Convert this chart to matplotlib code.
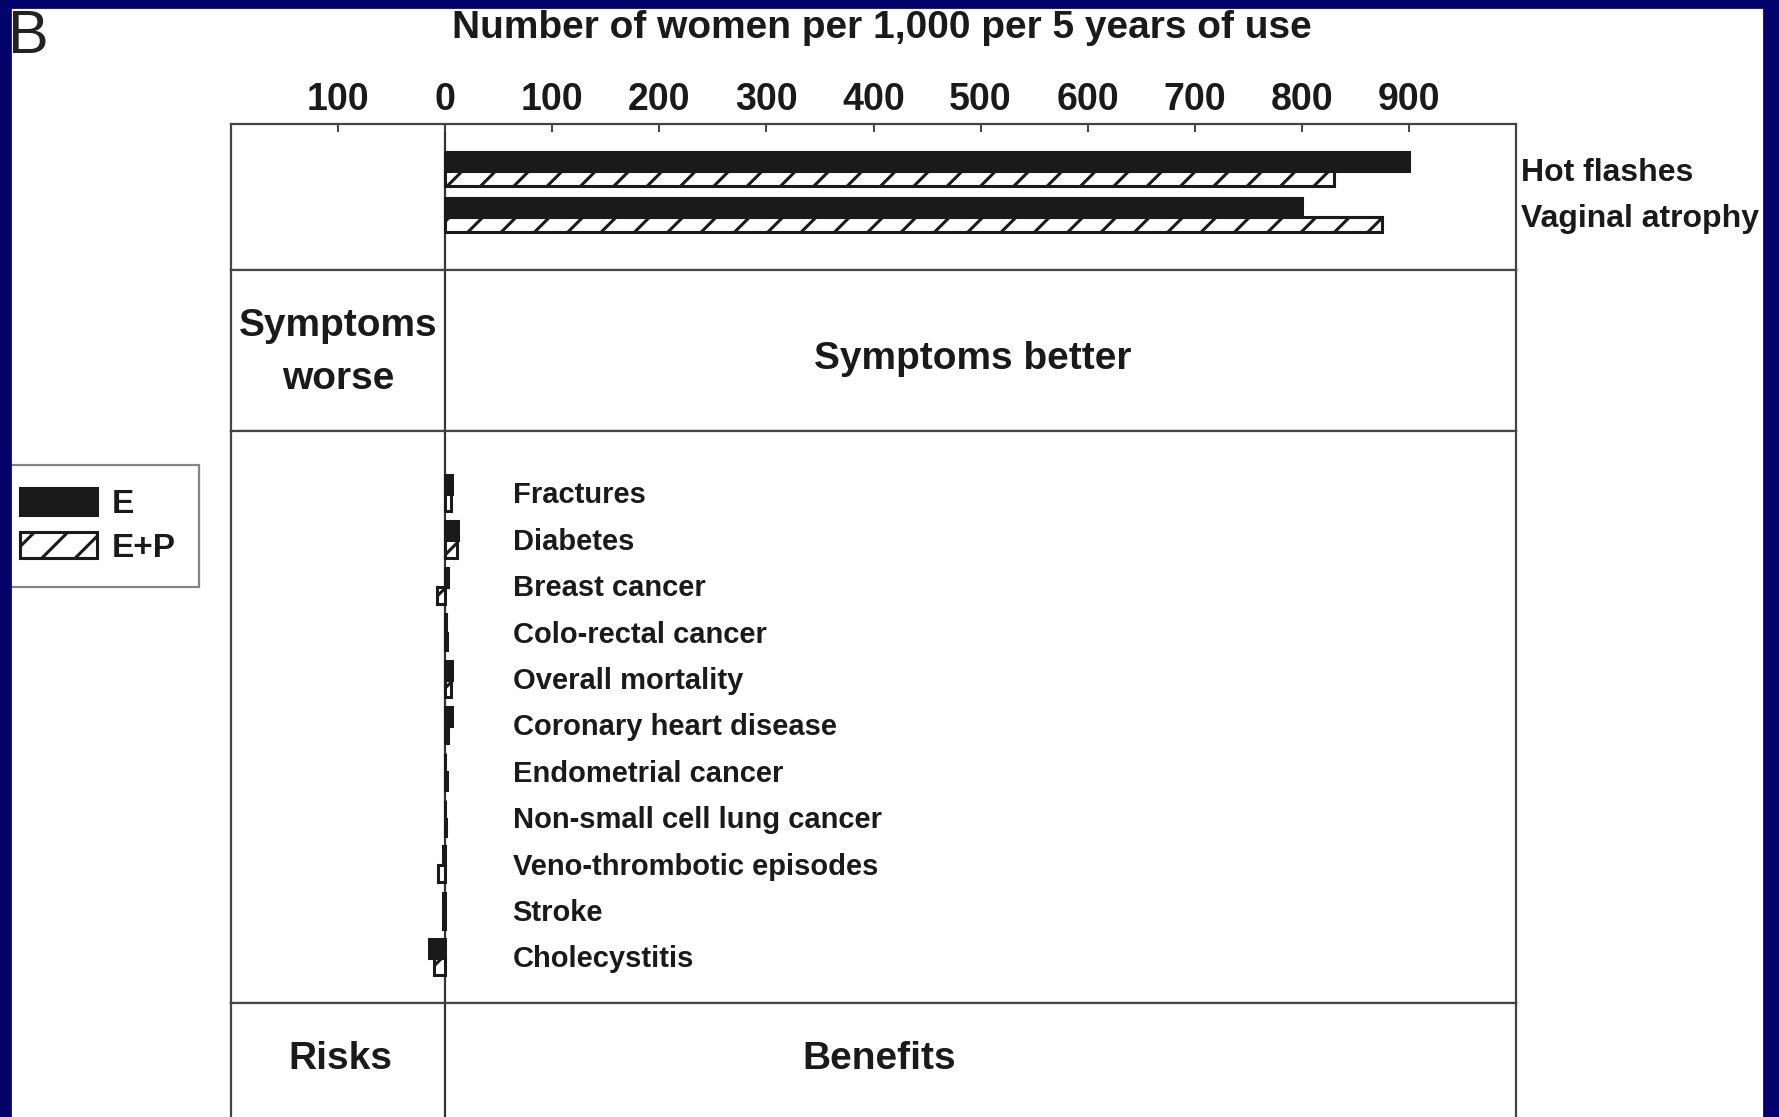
import numpy as np
import matplotlib
matplotlib.use("Agg")
import matplotlib.pyplot as plt
from matplotlib.patches import Patch, Rectangle

plt.rcParams["font.family"] = ["Liberation Sans", "DejaVu Sans"]
plt.rcParams["font.weight"] = "bold"
plt.rcParams["hatch.linewidth"] = 1.1

# symptom relief (per 1,000 women per 5 years of use)
symptoms = ["Hot flashes", "Vaginal atrophy"]
symptom_e = [900, 800]
symptom_ep = [830, 875]

# risks (negative) and benefits (positive)
outcomes = ["Fractures", "Diabetes", "Breast cancer", "Colo-rectal cancer",
            "Overall mortality", "Coronary heart disease", "Endometrial cancer",
            "Non-small cell lung cancer", "Veno-thrombotic episodes", "Stroke",
            "Cholecystitis"]
outcome_e = [6, 12, 3, 1, 6, 6, 0, 0, -2, -2, -15]
outcome_ep = [5, 11, -8, 2, 5, 3, 2, 1, -7, -2, -10]

xticks = list(range(-100, 1000, 100))

W, H = 1779, 1117
DPI = 200
INK = "#1a1a1a"
LINE = "#444444"

fig = plt.figure(figsize=(W / DPI, H / DPI), dpi=DPI)
fig.patch.set_facecolor("white")


def panel(top, bottom):
    ax = fig.add_axes([231 / W, 1 - bottom / H, (1516 - 231) / W, (bottom - top) / H])
    ax.set_xlim(-200, 1000)
    ax.set_yticks([])
    ax.set_xticks([])
    for s in ax.spines.values():
        s.set_color(LINE)
        s.set_linewidth(0.8)
    ax.axvline(0, color="#333333", lw=0.8, zorder=1)
    return ax


ax_top = panel(124, 270)
ax_mid = panel(270, 431)
ax_low = panel(431, 1003)
ax_bot = panel(1003, 1117)
ax_bot.spines["bottom"].set_visible(False)

# x axis on top of the figure
ax_top.set_xticks(xticks)
ax_top.set_xticklabels([str(abs(v)) for v in xticks])
ax_top.xaxis.tick_top()
ax_top.tick_params(axis="x", direction="in", length=3, width=0.7, pad=2.3,
                   labelsize=13.5, colors=LINE, labelcolor=INK)


def paired_bars(ax, e_vals, ep_vals, h_e, h_ep):
    y = np.arange(len(e_vals))
    ax.barh(y - h_e / 2, e_vals, height=h_e, color=INK, edgecolor=INK,
            linewidth=1.1, zorder=3)
    ax.barh(y + h_ep / 2, ep_vals, height=h_ep, color="white", edgecolor=INK,
            hatch="//", linewidth=1.1, zorder=3)
    return y


y_sym = paired_bars(ax_top, symptom_e, symptom_ep, 0.41, 0.33)
ax_top.set_ylim(2.15, -1.02)
for yi, name in zip(y_sym, symptoms):
    ax_top.text(1005, yi + 0.05, name, ha="left", va="center", fontsize=11.5, color=INK)

y_out = paired_bars(ax_low, outcome_e, outcome_ep, 0.41, 0.37)
ax_low.set_ylim(10.97, -1.36)
for yi, name in zip(y_out, outcomes):
    ax_low.text(63, yi + 0.03, name, ha="left", va="center", fontsize=10.5, color=INK)

ax_mid.set_ylim(0, 1)
ax_mid.text(-100, 0.49, "Symptoms\nworse", ha="center", va="center",
            fontsize=14, linespacing=1.6, color=INK)
ax_mid.text(493, 0.45, "Symptoms better", ha="center", va="center",
            fontsize=14, color=INK)

ax_bot.set_ylim(0, 1)
ax_bot.text(-98, 0.51, "Risks", ha="center", va="center", fontsize=14, color=INK)
ax_bot.text(405, 0.51, "Benefits", ha="center", va="center", fontsize=14, color=INK)

fig.text(882 / W, 1 - 28 / H, "Number of women per 1,000 per 5 years of use",
         ha="center", va="center", fontsize=14, color=INK)

leg = fig.legend(
    handles=[Patch(facecolor=INK, edgecolor=INK, linewidth=1.1),
             Patch(facecolor="white", edgecolor=INK, hatch="//", linewidth=1.1)],
    labels=["E", "E+P"], loc="upper left", bbox_to_anchor=(-3 / W, 1 - 465 / H),
    fontsize=12, frameon=True, fancybox=False, edgecolor="#666666",
    handlelength=2.3, handleheight=0.84, handletextpad=0.45,
    labelspacing=0.36, borderpad=0.7, borderaxespad=0)
leg.get_frame().set_linewidth(0.8)
for t in leg.get_texts():
    t.set_color(INK)

fig.text(8 / W, 1 - 53 / H, "B", ha="left", va="baseline", fontsize=22,
         fontweight="normal", color="#222222")

# navy slide frame
navy = "#03036b"
fig.add_artist(Rectangle((0, 1 - 7 / H), 1, 7 / H, transform=fig.transFigure,
                         color=navy, zorder=10))
fig.add_artist(Rectangle((0, 0), 10 / W, 1, transform=fig.transFigure,
                         color=navy, zorder=10))
fig.add_artist(Rectangle((1764 / W, 0), 15 / W, 1, transform=fig.transFigure,
                         color=navy, zorder=10))

fig.savefig("out.png", dpi=DPI)
